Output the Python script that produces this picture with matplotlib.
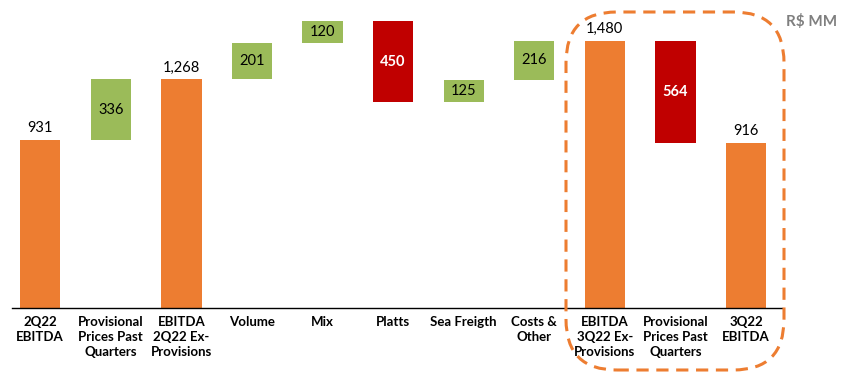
import matplotlib.pyplot as plt
from matplotlib.patches import FancyBboxPatch

plt.rcParams['font.family'] = ['Lato', 'DejaVu Sans']

labels = ["2Q22\nEBITDA", "Provisional\nPrices Past\nQuarters", "EBITDA\n2Q22 Ex-\nProvisions",
          "Volume", "Mix", "Platts", "Sea Freigth", "Costs &\nOther",
          "EBITDA\n3Q22 Ex-\nProvisions", "Provisional\nPrices Past\nQuarters", "3Q22\nEBITDA"]
values = [931, 336, 1268, 201, 120, -450, 125, 216, 1480, -564, 916]
kinds = ["total", "delta", "total", "delta", "delta", "delta", "delta", "delta", "total", "delta", "total"]

orange = "#ED7D31"
green = "#9BBB59"
red = "#C00000"

fig = plt.figure(figsize=(8.43, 3.82), dpi=100)
ax = fig.add_axes([12/843, 74/382, 770/843, 308/382])

level = 0
for i, (v, k) in enumerate(zip(values, kinds)):
    if k == "total":
        ax.bar(i, v, width=0.57, color=orange)
        ax.text(i, v + 25, f"{v:,}", ha="center", va="bottom", fontsize=10.5, color="black")
        level = v
    else:
        bottom = level if v > 0 else level + v
        c = green if v > 0 else red
        ax.bar(i, abs(v), bottom=bottom, width=0.57, color=c)
        tc = "black" if v > 0 else "white"
        fw = "normal" if v > 0 else "bold"
        ax.text(i, bottom + abs(v) / 2, f"{abs(v):,}", ha="center", va="center",
                fontsize=10.5, color=tc, fontweight=fw)
        level += v

ax.set_xlim(-0.4, 10.51)
ax.set_ylim(0, 1706)
ax.set_xticks(range(len(labels)))
ax.set_xticklabels(labels, fontsize=9.5, fontweight="bold", linespacing=1.3)
ax.tick_params(axis="x", length=0, pad=6)
ax.set_yticks([])
for s in ["left", "right", "top"]:
    ax.spines[s].set_visible(False)
ax.spines["bottom"].set_linewidth(1)

box = FancyBboxPatch((566/843, 12/382), 218/843, 358/382,
                     boxstyle="round,pad=0,rounding_size=0.06",
                     transform=fig.transFigure, fill=False, edgecolor=orange,
                     linestyle=(0, (4, 2.5)), linewidth=2.2, mutation_aspect=843/382)
fig.patches.append(box)

fig.text(812/843, 1 - 21/382, "R$ MM", ha="center", va="center", fontsize=11,
         fontweight="bold", color="#7F7F7F")

fig.savefig("out.png", dpi=100)
